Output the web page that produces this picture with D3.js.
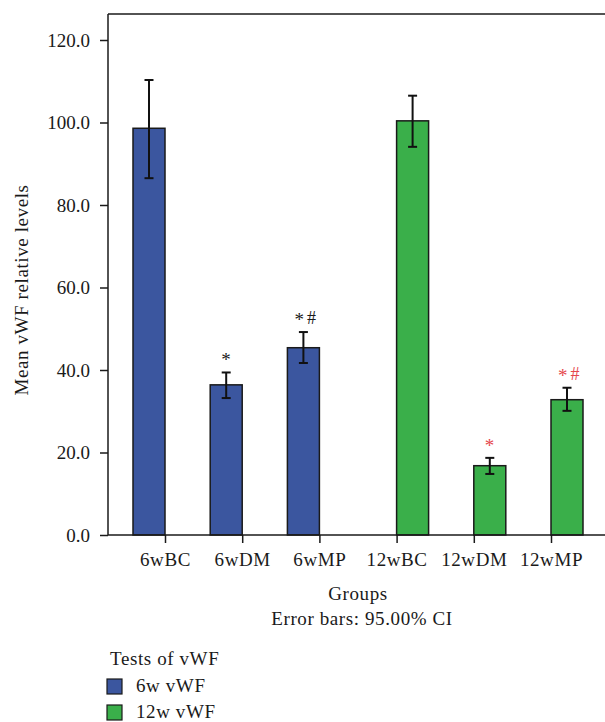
<!DOCTYPE html>
<html>
<head>
<meta charset="utf-8">
<script src="https://cdn.jsdelivr.net/npm/d3@7"></script>
<style>
  html, body { margin: 0; padding: 0; background: #fff; }
  svg { display: block; }
  text { font-family: "Liberation Serif", "DejaVu Serif", serif; fill: #1a1a1a; }
  .lbl { letter-spacing: 0.6px; }
</style>
</head>
<body>
<svg id="chart" width="605" height="722"></svg>
<script>
// ---- data ----
const categories = ["6wBC", "6wDM", "6wMP", "12wBC", "12wDM", "12wMP"];
const seriesNames = ["6w vWF", "12w vWF"];
const seriesOf = ["6w vWF", "6w vWF", "6w vWF", "12w vWF", "12w vWF", "12w vWF"];
const means = [98.6, 36.4, 45.4, 100.4, 16.8, 32.8];
const ciLower = [86.5, 33.2, 41.7, 94.1, 14.8, 30.1];
const ciUpper = [110.3, 39.4, 49.2, 106.5, 18.7, 35.7];
const marks = ["", "*", "*#", "", "*", "*#"];
const yTicks = [0, 20, 40, 60, 80, 100, 120];
const colors = ["#3b569f", "#3aaf4a"];
const markColors = ["#1a1a1a", "#e5474d"];

const svg = d3.select("#chart");
const mLeft = 108, mRight = 605, mTop = 14, mBottom = 535;

const y = d3.scaleLinear().domain([0, 120]).range([mBottom, 40]);
const x = d3.scalePoint().domain(categories).range([165, 551]);
const barW = 32;
const xs = d3.scaleBand().domain(seriesNames).range([-barW, barW]).padding(0);
const color = d3.scaleOrdinal().domain(seriesNames).range(colors);
const mcolor = d3.scaleOrdinal().domain(seriesNames).range(markColors);

const data = categories.map((c, i) => ({
  cat: c, series: seriesOf[i], mean: means[i], lo: ciLower[i], hi: ciUpper[i], mark: marks[i]
}));

// bars
svg.append("g").selectAll("rect").data(data).join("rect")
  .attr("x", d => x(d.cat) + xs(d.series))
  .attr("y", d => y(d.mean))
  .attr("width", xs.bandwidth())
  .attr("height", d => y(0) - y(d.mean))
  .attr("fill", d => color(d.series))
  .attr("stroke", "#1a1a1a")
  .attr("stroke-width", 1.5);

// error bars
const eb = svg.append("g").attr("stroke", "#111").attr("stroke-width", 2);
data.forEach(d => {
  const cx = x(d.cat) + xs(d.series) + xs.bandwidth() / 2;
  eb.append("line").attr("x1", cx).attr("x2", cx).attr("y1", y(d.hi)).attr("y2", y(d.lo));
  eb.append("line").attr("x1", cx - 4.5).attr("x2", cx + 4.5).attr("y1", y(d.hi)).attr("y2", y(d.hi));
  eb.append("line").attr("x1", cx - 4.5).attr("x2", cx + 4.5).attr("y1", y(d.lo)).attr("y2", y(d.lo));
});

// significance marks
data.filter(d => d.mark).forEach(d => {
  const cx = x(d.cat) + xs(d.series) + xs.bandwidth() / 2;
  const t = svg.append("text")
    .attr("x", d.mark.length > 1 ? cx - 9 : cx - 5)
    .attr("y", y(d.hi) - 6)
    .style("font-size", "19px")
    .style("fill", mcolor(d.series));
  t.append("tspan").text(d.mark[0]);
  if (d.mark.length > 1) {
    t.append("tspan").text(d.mark.slice(1)).attr("dx", 3).attr("dy", -2).style("font-size", "18px");
  }
});

// axes
const yAxis = d3.axisLeft(y).tickValues(yTicks).tickFormat(d3.format(".1f")).tickSize(8).tickPadding(10);
const gy = svg.append("g").attr("transform", `translate(${mLeft},0)`).call(yAxis);
gy.select(".domain").remove();
gy.selectAll(".tick line").attr("stroke", "#1a1a1a").attr("stroke-width", 1.5);
gy.selectAll("text").style("font-size", "19px").style("font-family", "Liberation Serif, serif").attr("fill", "#1a1a1a");

const xAxis = d3.axisBottom(x).tickSize(8).tickPadding(10);
const gx = svg.append("g").attr("transform", `translate(0,${mBottom})`).call(xAxis);
gx.select(".domain").remove();
gx.selectAll(".tick line").attr("stroke", "#1a1a1a").attr("stroke-width", 1.5);
gx.selectAll("text").attr("class", "lbl").style("font-size", "19px").style("font-family", "Liberation Serif, serif").attr("fill", "#1a1a1a");

// frame lines
const fr = svg.append("g").attr("stroke", "#1a1a1a").attr("stroke-width", 1.5);
fr.append("line").attr("x1", mLeft).attr("x2", mLeft).attr("y1", mTop).attr("y2", mBottom);
fr.append("line").attr("x1", mLeft).attr("x2", mRight).attr("y1", mTop).attr("y2", mTop);
fr.append("line").attr("x1", mLeft).attr("x2", mRight).attr("y1", mBottom).attr("y2", mBottom);

// axis titles
svg.append("text").attr("class", "lbl").attr("x", 358).attr("y", 600).attr("text-anchor", "middle")
  .style("font-size", "19px").text("Groups");
svg.append("text").attr("class", "lbl").attr("x", 362).attr("y", 625).attr("text-anchor", "middle")
  .style("font-size", "19px").text("Error bars: 95.00% CI");
svg.append("text").attr("class", "lbl").attr("transform", "translate(28,290) rotate(-90)").attr("text-anchor", "middle")
  .style("font-size", "19px").text("Mean vWF relative levels");

// legend
svg.append("text").attr("class", "lbl").attr("x", 110).attr("y", 665).style("font-size", "19px").text("Tests of vWF");
const lg = svg.append("g").selectAll("g").data(seriesNames).join("g")
  .attr("transform", (d, i) => `translate(107,${679 + i * 26})`);
lg.append("rect").attr("width", 15).attr("height", 15)
  .attr("fill", d => color(d)).attr("stroke", "#1a1a1a").attr("stroke-width", 1.2);
lg.append("text").attr("class", "lbl").attr("x", 29).attr("y", 13).style("font-size", "19px").text(d => d);
</script>
</body>
</html>
